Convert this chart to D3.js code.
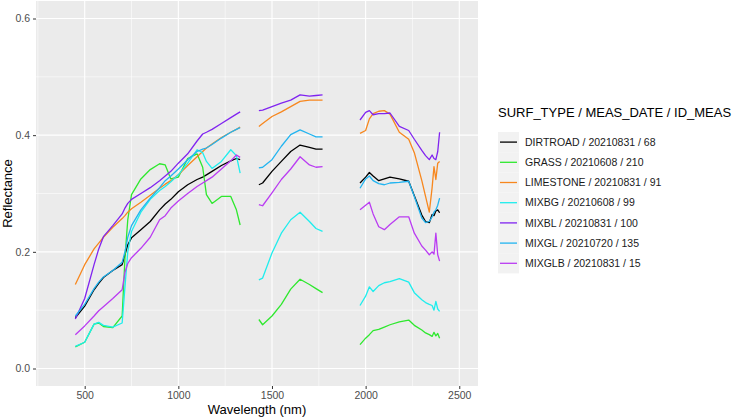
<!DOCTYPE html>
<html>

<head>
    <meta charset="UTF-8">
    <style>
        body {
            margin: 0;
            background: white;
        }
        
        text {
            font-family: Arial, "Liberation Sans", sans-serif;
        }
        
        .tick text {
            fill: #4d4d4d;
            font-size: 10.5px;
        }
        
        .tick line {
            stroke: #333333;
        }
    </style>
    <script src="https://d3js.org/d3.v7.min.js"></script>
    <title>Reflectance spectra</title>
</head>

<body>
    <svg id="framework" width="733" height="420"></svg>

    <script>
        // wavelengths (nm), null = gap between measured bands
        var wavelength = [450, 500, 550, 575, 600, 650, 700, 715, 730, 750, 800, 850, 900, 930, 960, 1000, 1050, 1100, 1130, 1150, 1180, 1230, 1280, 1310, 1330, null,
            1430, 1450, 1500, 1550, 1600, 1650, 1700, 1735, 1770, null,
            1970, 2000, 2020, 2040, 2070, 2100, 2130, 2180, 2230, 2260, 2300, 2320, 2340, 2355, 2365, 2375, 2385, 2395
        ];

        var dirtroad = [0.087, 0.107, 0.135, 0.146, 0.156, 0.168, 0.178, 0.195, 0.212, 0.224, 0.238, 0.252, 0.272, 0.282, 0.29, 0.303, 0.315, 0.324, 0.328, 0.332, 0.338, 0.348, 0.356, 0.36, 0.358, null,
            0.315, 0.318, 0.338, 0.355, 0.372, 0.383, 0.379, 0.376, 0.376, null,
            0.318, 0.328, 0.336, 0.33, 0.322, 0.325, 0.328, 0.325, 0.321, 0.296, 0.263, 0.252, 0.25, 0.264, 0.262, 0.27, 0.272, 0.267
        ];
        var grass = [0.037, 0.045, 0.076, 0.078, 0.072, 0.07, 0.09, 0.19, 0.255, 0.298, 0.325, 0.341, 0.351, 0.349, 0.325, 0.328, 0.36, 0.368, 0.345, 0.298, 0.283, 0.295, 0.295, 0.272, 0.246, null,
            0.084, 0.075, 0.09, 0.11, 0.136, 0.153, 0.144, 0.137, 0.13, null,
            0.041, 0.052, 0.058, 0.065, 0.067, 0.071, 0.075, 0.08, 0.083, 0.074, 0.066, 0.061, 0.058, 0.055, 0.062, 0.056, 0.06, 0.052
        ];
        var limestone = [0.144, 0.178, 0.205, 0.215, 0.225, 0.242, 0.257, 0.262, 0.268, 0.274, 0.285, 0.297, 0.309, 0.316, 0.322, 0.332, 0.348, 0.363, 0.372, 0.378, 0.385, 0.396, 0.405, 0.41, 0.414, null,
            0.415, 0.42, 0.432, 0.44, 0.449, 0.458, 0.46, 0.46, 0.46, null,
            0.403, 0.408, 0.428, 0.437, 0.441, 0.442, 0.436, 0.405, 0.393, 0.37, 0.322, 0.295, 0.268, 0.31, 0.346, 0.324, 0.352, 0.355
        ];
        var mixbg = [0.038, 0.045, 0.076, 0.079, 0.074, 0.071, 0.078, 0.14, 0.2, 0.235, 0.268, 0.29, 0.305, 0.312, 0.32, 0.332, 0.352, 0.375, 0.37, 0.355, 0.343, 0.355, 0.375, 0.365, 0.335, null,
            0.152, 0.155, 0.198, 0.232, 0.255, 0.268, 0.252, 0.24, 0.235, null,
            0.108, 0.124, 0.14, 0.132, 0.142, 0.147, 0.149, 0.154, 0.148, 0.13, 0.118, 0.113, 0.11, 0.108, 0.1, 0.115, 0.102, 0.098
        ];
        var mixbl = [0.085, 0.12, 0.178, 0.205, 0.226, 0.245, 0.265, 0.275, 0.283, 0.29, 0.3, 0.31, 0.322, 0.33, 0.338, 0.352, 0.368, 0.39, 0.402, 0.405, 0.41, 0.42, 0.43, 0.436, 0.44, null,
            0.442, 0.443, 0.449, 0.455, 0.46, 0.469, 0.467, 0.468, 0.469, null,
            0.426, 0.439, 0.442, 0.435, 0.437, 0.437, 0.438, 0.415, 0.408, 0.393, 0.374, 0.365, 0.358, 0.366, 0.36, 0.358, 0.372, 0.405
        ];
        var mixgl = [0.09, 0.11, 0.137, 0.148, 0.157, 0.168, 0.182, 0.2, 0.225, 0.245, 0.272, 0.292, 0.31, 0.322, 0.33, 0.342, 0.358, 0.372, 0.376, 0.378, 0.384, 0.395, 0.405, 0.41, 0.413, null,
            0.344, 0.345, 0.358, 0.381, 0.401, 0.409, 0.402, 0.397, 0.397, null,
            0.309, 0.325, 0.33, 0.322, 0.317, 0.315, 0.318, 0.319, 0.321, 0.295, 0.258, 0.25, 0.252, 0.26, 0.268, 0.272, 0.28, 0.292
        ];
        var mixglb = [0.058, 0.073, 0.09, 0.099, 0.106, 0.12, 0.135, 0.165, 0.18, 0.19, 0.206, 0.225, 0.255, 0.262, 0.275, 0.287, 0.3, 0.312, 0.318, 0.322, 0.328, 0.342, 0.356, 0.366, 0.362, null,
            0.281, 0.279, 0.301, 0.324, 0.342, 0.363, 0.349, 0.345, 0.346, null,
            0.272, 0.28, 0.285, 0.265, 0.243, 0.238, 0.247, 0.26, 0.26, 0.232, 0.21, 0.203, 0.195, 0.2, 0.196, 0.232, 0.195, 0.184
        ];

        var seriesNames = ["DIRTROAD / 20210831 / 68", "GRASS / 20210608 / 210", "LIMESTONE / 20210831 / 91",
            "MIXBG / 20210608 / 99", "MIXBL / 20210831 / 100", "MIXGL / 20210720 / 135", "MIXGLB / 20210831 / 15"
        ];
        var seriesValues = [dirtroad, grass, limestone, mixbg, mixbl, mixgl, mixglb];
        var colors = ["#000000", "#2EE82E", "#F7871E", "#1EEDED", "#8024F0", "#22B4F0", "#BA3CF2"];

        var xTicks = [500, 1000, 1500, 2000, 2500];
        var xMinor = [250, 750, 1250, 1750, 2250];
        var yTicks = [0, 0.2, 0.4, 0.6];
        var yMinor = [0.1, 0.3, 0.5];

        var svg = d3.select("svg");
        var panel = { left: 36, right: 478, top: 1, bottom: 386 };

        var x = d3.scaleLinear().domain([240, 2600]).range([panel.left, panel.right]);
        var y = d3.scaleLinear().domain([-0.03, 0.63]).range([panel.bottom, panel.top]);

        // panel background
        svg.append("rect")
            .attr("x", panel.left).attr("y", panel.top)
            .attr("width", panel.right - panel.left)
            .attr("height", panel.bottom - panel.top)
            .attr("fill", "#EBEBEB");

        // minor grid
        svg.selectAll(".xminor").data(xMinor).enter().append("line")
            .attr("x1", function(d) { return x(d); })
            .attr("x2", function(d) { return x(d); })
            .attr("y1", panel.top).attr("y2", panel.bottom)
            .attr("stroke", "white").attr("stroke-width", 0.55);
        svg.selectAll(".yminor").data(yMinor).enter().append("line")
            .attr("y1", function(d) { return y(d); })
            .attr("y2", function(d) { return y(d); })
            .attr("x1", panel.left).attr("x2", panel.right)
            .attr("stroke", "white").attr("stroke-width", 0.55);

        // major grid
        svg.selectAll(".xmajor").data(xTicks).enter().append("line")
            .attr("x1", function(d) { return x(d); })
            .attr("x2", function(d) { return x(d); })
            .attr("y1", panel.top).attr("y2", panel.bottom)
            .attr("stroke", "white").attr("stroke-width", 1.1);
        svg.selectAll(".ymajor").data(yTicks).enter().append("line")
            .attr("y1", function(d) { return y(d); })
            .attr("y2", function(d) { return y(d); })
            .attr("x1", panel.left).attr("x2", panel.right)
            .attr("stroke", "white").attr("stroke-width", 1.1);

        // axes
        var xAxis = svg.append("g")
            .attr("transform", "translate(0," + panel.bottom + ")")
            .call(d3.axisBottom(x).tickValues(xTicks).tickSize(3).tickPadding(3).tickFormat(d3.format("d")));
        xAxis.select(".domain").remove();

        var yAxis = svg.append("g")
            .attr("transform", "translate(" + panel.left + ",0)")
            .call(d3.axisLeft(y).tickValues(yTicks).tickSize(3).tickPadding(3).tickFormat(d3.format(".1f")));
        yAxis.select(".domain").remove();

        svg.selectAll(".tick text").attr("font-family", null);

        // axis titles
        svg.append("text")
            .attr("x", (panel.left + panel.right) / 2)
            .attr("y", 414)
            .attr("text-anchor", "middle")
            .attr("font-size", "13px")
            .attr("fill", "black")
            .text("Wavelength (nm)");

        svg.append("text")
            .attr("transform", "translate(11.5," + (panel.top + panel.bottom) / 2 + ") rotate(-90)")
            .attr("text-anchor", "middle")
            .attr("font-size", "13px")
            .attr("fill", "black")
            .text("Reflectance");

        // spectra
        var line = d3.line()
            .defined(function(d) { return d.w != null && d.v != null; })
            .x(function(d) { return x(d.w); })
            .y(function(d) { return y(d.v); });

        seriesValues.forEach(function(vals, i) {
            var pts = wavelength.map(function(w, j) {
                return { w: w, v: vals[j] };
            });
            svg.append("path")
                .datum(pts)
                .attr("d", line)
                .attr("fill", "none")
                .attr("stroke", colors[i])
                .attr("stroke-width", 1.3)
                .attr("stroke-linejoin", "round");
        });

        // legend
        var legend = svg.append("g").attr("transform", "translate(498,0)");
        legend.append("text")
            .attr("x", 0).attr("y", 117)
            .attr("font-size", "13px")
            .attr("fill", "black")
            .text("SURF_TYPE / MEAS_DATE / ID_MEAS");

        var rowH = 20.2,
            top0 = 132;
        var rows = legend.selectAll(".key").data(seriesNames).enter().append("g")
            .attr("transform", function(d, i) { return "translate(0," + (top0 + i * rowH) + ")"; });
        rows.append("rect")
            .attr("x", 0).attr("y", 0)
            .attr("width", 21).attr("height", rowH)
            .attr("fill", "#F2F2F2");
        rows.append("line")
            .attr("x1", 2).attr("x2", 19)
            .attr("y1", rowH / 2).attr("y2", rowH / 2)
            .attr("stroke", function(d, i) { return colors[i]; })
            .attr("stroke-width", 1.3);
        rows.append("text")
            .attr("x", 27).attr("y", rowH / 2 + 3.8)
            .attr("font-size", "10.5px")
            .attr("fill", "#1a1a1a")
            .text(function(d) { return d; });
    </script>
</body>

</html>
